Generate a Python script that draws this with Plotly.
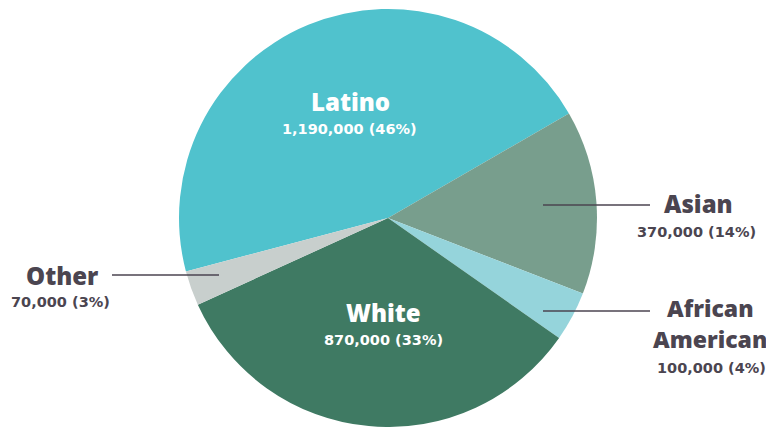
import plotly.graph_objects as go

# page has an 8px body margin; figure sized to fill the rest of the window
OFF = 8
W, H = 774 - OFF, 427 - OFF

categories = ["Latino", "Asian", "African American", "White", "Other"]
values = [1190000, 370000, 100000, 870000, 70000]
shares = ["46%", "14%", "4%", "33%", "3%"]
colors = ["#50C2CD", "#789E8D", "#95D4DB", "#3F7A63", "#C8CFCD"]

DARK = "#4B4550"
FONT = "Open Sans"
FONT2 = "DejaVu Sans"

fig = go.Figure()
cx = 388 - OFF
fig.add_trace(go.Pie(
    labels=categories, values=values, sort=False, direction="clockwise",
    rotation=255.2, marker=dict(colors=colors, line=dict(width=0)),
    textinfo="none", hoverinfo="label+value+percent", showlegend=False,
    domain=dict(x=[(cx - 300) / W, (cx + 300) / W], y=[0, 1 - 1 / H]),
))

def px(x, y):
    return (x - OFF) / W, 1 - (y - OFF) / H

def fmt(v):
    return f"{v:,}"

annos = []
def label(x, y, text, size, color, weight=800, family=FONT):
    ax, ay = px(x, y)
    annos.append(dict(x=ax, y=ay, xref="paper", yref="paper", text=text,
                      showarrow=False, xanchor="center", yanchor="middle",
                      font=dict(family=family, size=size, color=color, weight=weight)))

def value_label(x, y, i, color):
    label(x, y, f"{fmt(values[i])} ({shares[i]})", SMALL, color, 700, FONT2)

BIG, SMALL = 24, 14.5
# inside labels
label(350, 101, categories[0], BIG, "white")
value_label(349, 129, 0, "white")
label(383, 312, categories[3], BIG, "white")
value_label(383, 340, 3, "white")
# outside labels
label(62, 275, categories[4], BIG, DARK)
value_label(60, 302, 4, DARK)
label(698, 204, categories[1], BIG, DARK)
value_label(696, 232, 1, DARK)
label(710, 308, "African", 23, DARK)
label(710, 339, "American", 23, DARK)
value_label(711, 368, 2, DARK)

shapes = []
for (x0, x1, y) in [(112, 219, 275), (543, 650, 205), (543, 650, 311)]:
    a0, b = px(x0, y)
    a1, _ = px(x1, y)
    shapes.append(dict(type="line", xref="paper", yref="paper", x0=a0, x1=a1,
                       y0=b, y1=b, line=dict(color=DARK, width=1.5)))

fig.update_layout(width=W, height=H, margin=dict(l=0, r=0, t=0, b=0),
                  paper_bgcolor="white", plot_bgcolor="white",
                  annotations=annos, shapes=shapes)

fig.write_html("out.html")
